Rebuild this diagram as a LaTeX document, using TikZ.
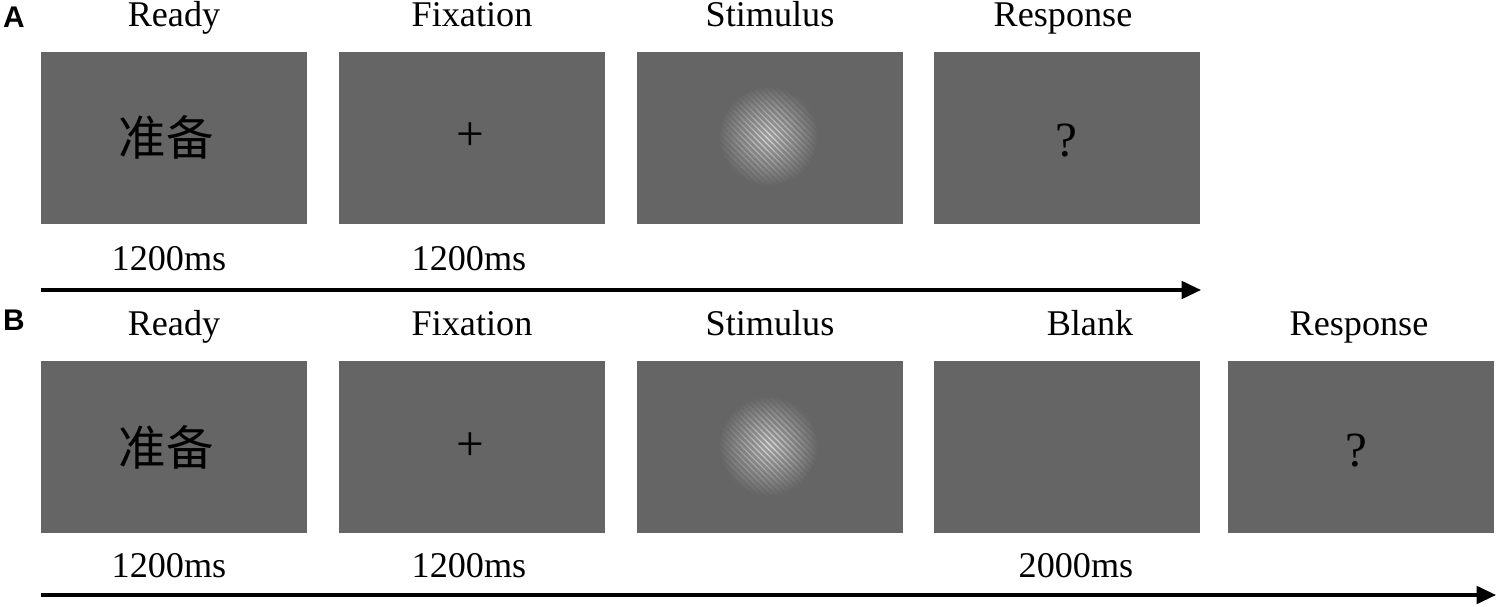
\documentclass[tikz,border=0pt]{standalone}
\usepackage{fontspec}
\setmainfont{Liberation Serif}
\newfontfamily\panelfont{Liberation Sans}
\newfontfamily\cjk{Noto Sans CJK SC}
\usetikzlibrary{arrows.meta,calc}
\definecolor{scrgray}{RGB}{101,101,101}
\definecolor{stripegray}{RGB}{228,228,228}
\tikzset{
  scr/.style={draw=none, fill=scrgray, minimum width=5.32cm, minimum height=3.44cm, inner sep=0pt},
  lbl/.style={font=\fontsize{20.6}{24}\selectfont, anchor=base, inner sep=0pt},
  panel/.style={font=\panelfont\bfseries\fontsize{17}{19}\selectfont, anchor=base, inner sep=0pt},
  timeline/.style={line width=1.8pt, -{Triangle[length=11pt,width=10pt]}},
  cjktext/.style={font=\cjk\fontsize{27}{30}\selectfont, inner sep=0pt},
  sym/.style={font=\fontsize{28}{30}\selectfont, inner sep=0pt}
}
\newcommand{\grating}[1]{%
  \begin{scope}
    \clip (#1) circle (1.0cm);
    \shade[inner color=stripegray, outer color=scrgray] (#1) circle (1.0cm);
    \foreach \k in {-16,...,16}{
      \draw[scrgray, line width=1.6pt, opacity=0.55]
        ($(#1)+(\k*0.12cm-1.2cm,1.2cm)$) -- ++(2.4cm,-2.4cm);
    }
  \end{scope}}
\begin{document}
\begin{tikzpicture}[x=0.02cm,y=-0.02cm]
\useasboundingbox (0,0) rectangle (1500,607);
% panel labels
\node[panel] (pA) at (14,28) {A};
\node[panel] (pB) at (14,331) {B};
% row A screens
\node[scr] (a1) at (174,138) {};
\node[scr] (a2) at (472,138) {};
\node[scr] (a3) at (770,138) {};
\node[scr] (a4) at (1067,138) {};
% row B screens
\node[scr] (b1) at (174,447) {};
\node[scr] (b2) at (472,447) {};
\node[scr] (b3) at (770,447) {};
\node[scr] (b4) at (1067,447) {};
\node[scr] (b5) at (1361,447) {};
% contents
\node[cjktext] (a1t) at (166,137) {准备};
\node[cjktext] (b1t) at (166,447) {准备};
\node[sym] (a2t) at (470,137) {+};
\node[sym] (b2t) at (470,447) {+};
\node[sym] (a4t) at (1066,141) {?};
\node[sym] (b5t) at (1356,451) {?};
\coordinate (ga) at (768,136);
\coordinate (gb) at (768,446);
\grating{ga}
\grating{gb}
% titles A
\node[lbl] (ta1) at (174,27) {Ready};
\node[lbl] (ta2) at (472,27) {Fixation};
\node[lbl] (ta3) at (770,27) {Stimulus};
\node[lbl] (ta4) at (1063,27) {Response};
% titles B
\node[lbl] (tb1) at (174,336) {Ready};
\node[lbl] (tb2) at (472,336) {Fixation};
\node[lbl] (tb3) at (770,336) {Stimulus};
\node[lbl] (tb4) at (1090,336) {Blank};
\node[lbl] (tb5) at (1359,336) {Response};
% timings
\node[lbl] (da1) at (169,271) {1200ms};
\node[lbl] (da2) at (469,271) {1200ms};
\node[lbl] (db1) at (169,577) {1200ms};
\node[lbl] (db2) at (469,577) {1200ms};
\node[lbl] (db4) at (1076,577) {2000ms};
% timelines
\coordinate (asA) at (41,290);
\coordinate (aeA) at (1201,290);
\coordinate (asB) at (41,595);
\coordinate (aeB) at (1496,595);
\draw[timeline] (asA) -- (aeA);
\draw[timeline] (asB) -- (aeB);
\end{tikzpicture}
\end{document}
